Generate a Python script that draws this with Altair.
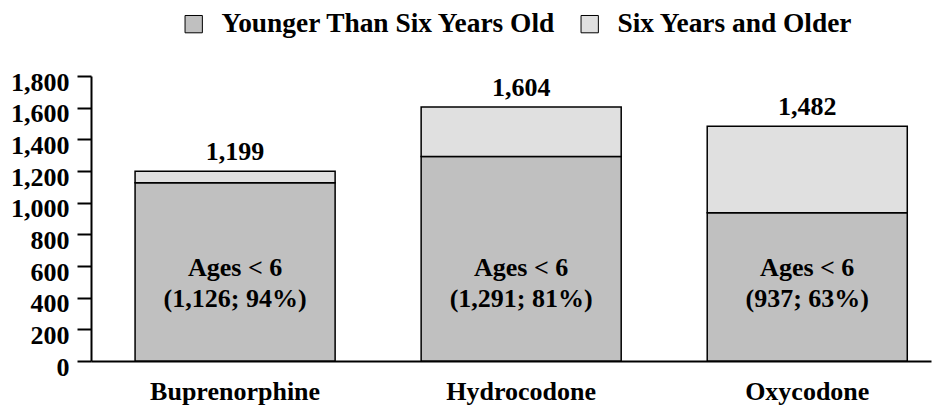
import altair as alt
import pandas as pd

drugs = ["Buprenorphine", "Hydrocodone", "Oxycodone"]
under_six = [1126, 1291, 937]
totals = [1199, 1604, 1482]
under_six_pct = [94, 81, 63]
series = ["Younger Than Six Years Old", "Six Years and Older"]
colors = ["#c0c0c0", "#e0e0e0"]
y_ticks = [0, 200, 400, 600, 800, 1000, 1200, 1400, 1600, 1800]

rows = []
for d, u, t in zip(drugs, under_six, totals):
    rows.append({"drug": d, "group": series[0], "value": u, "order": 0})
    rows.append({"drug": d, "group": series[1], "value": t - u, "order": 1})
bars_df = pd.DataFrame(rows)

lab_df = pd.DataFrame({
    "drug": drugs,
    "total": totals,
    "total_label": [f"{t:,}" for t in totals],
    "inner": [f"Ages < 6\n({u:,}; {p}%)" for u, p in zip(under_six, under_six_pct)],
    "inner_y": [590] * len(drugs),
})

FONT = "Liberation Serif"

x_scale = alt.Scale(paddingInner=0.3007, paddingOuter=0.1185, align=0.65)
x_axis = alt.Axis(labelAngle=0, ticks=False, domainWidth=2, domainColor="black",
                  labelFont=FONT, labelFontSize=26, labelFontWeight="bold",
                  labelColor="black", labelPadding=17)
y_scale = alt.Scale(domain=[0, 1800], nice=False)
y_axis = alt.Axis(values=y_ticks, tickCount=30, format=",.0f", grid=False,
                  tickSize=14, tickWidth=2,
                  tickColor="black", domainWidth=2, domainColor="black",
                  labelOverlap=False, labelFlush=False,
                  labelFont=FONT, labelFontSize=26, labelFontWeight="bold",
                  labelColor="black", labelPadding=8, labelOffset=6)

def xe():
    return alt.X("drug:N", sort=drugs, title=None, scale=x_scale, axis=x_axis)

def ye(field, **kw):
    return alt.Y(field, title=None, scale=y_scale, axis=y_axis, **kw)

bars = alt.Chart(bars_df).mark_bar(stroke="black", strokeWidth=1.5).encode(
    x=xe(),
    y=ye("value:Q", stack="zero"),
    color=alt.Color("group:N", sort=series,
                    scale=alt.Scale(domain=series, range=colors),
                    legend=alt.Legend(title=None, orient="none", direction="horizontal",
                                      legendX=89, legendY=-66, columns=2, columnPadding=19,
                                      symbolType="square", symbolSize=300,
                                      symbolStrokeColor="black", symbolStrokeWidth=1,
                                      symbolOpacity=1, labelOffset=14, labelLimit=0,
                                      labelFont=FONT, labelFontSize=27.4, labelFontWeight="bold",
                                      labelColor="black")),
    order=alt.Order("order:Q", sort="ascending"),
)

total_text = alt.Chart(lab_df).mark_text(
    font=FONT, fontSize=26, fontWeight="bold", color="black", baseline="alphabetic", dy=-11
).encode(x=xe(), y=ye("total:Q"), text="total_label:N")

inner_text = alt.Chart(lab_df).mark_text(
    font=FONT, fontSize=26, fontWeight="bold", color="black", baseline="middle",
    lineBreak="\n", lineHeight=31
).encode(x=xe(), y=ye("inner_y:Q"), text="inner:N")

chart = alt.layer(bars, total_text, inner_text).properties(
    width=840, height=285,
    autosize=alt.AutoSizeParams(type="none"),
    padding={"left": 83, "top": 68, "right": 1, "bottom": 45},
).configure_view(stroke=None)

chart.save("out.html", embed_options={"renderer": "svg", "actions": False})
